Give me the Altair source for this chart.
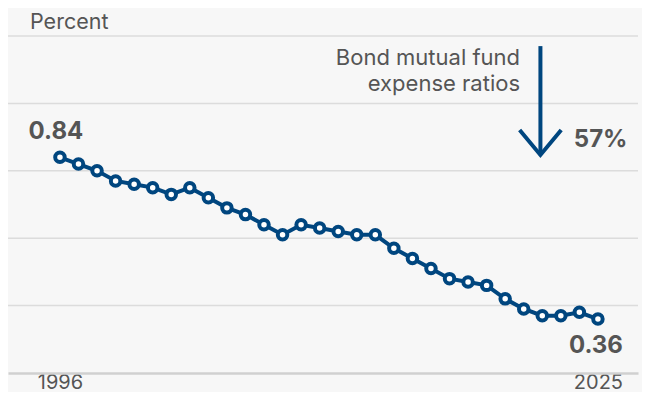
import altair as alt
import pandas as pd

years = list(range(1996, 2026))
ratios = [0.84, 0.82, 0.80, 0.77, 0.76, 0.75, 0.73, 0.75, 0.72, 0.69,
          0.67, 0.64, 0.61, 0.64, 0.63, 0.62, 0.61, 0.61, 0.57, 0.54,
          0.51, 0.48, 0.47, 0.46, 0.42, 0.39, 0.37, 0.37, 0.38, 0.36]
tick_years = [1996, 2025]
grid_values = [0.2, 0.4, 0.6, 0.8, 1.0, 1.2]
axis_title = "Percent"
annotation = ["Bond mutual fund", "expense ratios"]
change_label = "57%"

# annotation anchors (data coordinates)
arrow_x = 2021.9
arrow_top = 1.17
arrow_tip = 0.847
head_y = 0.921
head_half = 1.12
note_x = 2020.8
note_y = 1.114
change_x = 2023.7
change_y = 0.871

BLUE = "#00467F"
GREY = "#555555"
FONT = "Inter"
REG = 21.5

df = pd.DataFrame({"year": years, "ratio": ratios})
ends = pd.DataFrame({
    "year": [years[0], years[-1]],
    "ratio": [ratios[0], ratios[-1]],
    "label": [f"{ratios[0]:.2f}", f"{ratios[-1]:.2f}"],
})

xs = alt.Scale(domain=[1993.2, 2027.16], nice=False, zero=False)
ys = alt.Scale(domain=[0.2, 1.2], nice=False, zero=False)

base = alt.Chart(df)

grid = alt.Chart(pd.DataFrame({"v": grid_values[1:]})).mark_rule(
    color="#dcdcdc", strokeWidth=1.5
).encode(y=alt.Y("v:Q", scale=ys, axis=None))

line = base.mark_line(color=BLUE, strokeWidth=4).encode(
    x=alt.X("year:Q", scale=xs,
            axis=alt.Axis(values=tick_years, format="d", title=None, grid=False,
                          ticks=False, domain=True, domainColor="#d0d0d0",
                          domainWidth=2.5, labelFont=FONT, labelFontSize=20,
                          labelColor=GREY, labelPadding=-1, labelFlush=False)),
    y=alt.Y("ratio:Q", scale=ys, axis=None),
)
points = base.mark_point(shape="circle", filled=True, fill="white", stroke=BLUE,
                         strokeWidth=4, size=90, opacity=1).encode(
    x=alt.X("year:Q", scale=xs), y=alt.Y("ratio:Q", scale=ys))

first_lbl = alt.Chart(ends.iloc[[0]]).mark_text(
    font=FONT, fontSize=24, fontWeight="bold", color=GREY, align="center",
    baseline="alphabetic", dx=-4, dy=-18
).encode(x=alt.X("year:Q", scale=xs), y=alt.Y("ratio:Q", scale=ys), text="label:N")
last_lbl = alt.Chart(ends.iloc[[1]]).mark_text(
    font=FONT, fontSize=24, fontWeight="bold", color=GREY, align="right",
    baseline="alphabetic", dx=25, dy=34
).encode(x=alt.X("year:Q", scale=xs), y=alt.Y("ratio:Q", scale=ys), text="label:N")

title_txt = alt.Chart(pd.DataFrame({"t": [axis_title]})).mark_text(
    font=FONT, fontSize=REG, color=GREY, align="left", baseline="alphabetic"
).encode(x=alt.value(22), y=alt.value(-7), text="t:N")

shaft = alt.Chart(pd.DataFrame({"x": [arrow_x], "y1": [arrow_top], "y2": [arrow_tip]})).mark_rule(
    color=BLUE, strokeWidth=4
).encode(x=alt.X("x:Q", scale=xs), y=alt.Y("y1:Q", scale=ys), y2="y2:Q")

head = alt.Chart(pd.DataFrame({
    "x": [arrow_x - head_half, arrow_x, arrow_x + head_half],
    "y": [head_y, arrow_tip, head_y],
    "o": [0, 1, 2],
})).mark_line(color=BLUE, strokeWidth=4, strokeJoin="miter", strokeCap="butt").encode(
    x=alt.X("x:Q", scale=xs), y=alt.Y("y:Q", scale=ys), order="o:Q")

note = alt.Chart(pd.DataFrame({"x": [note_x], "y": [note_y], "t": [annotation]})).mark_text(
    font=FONT, fontSize=22, color=GREY, align="right", baseline="alphabetic", lineHeight=26
).encode(x=alt.X("x:Q", scale=xs), y=alt.Y("y:Q", scale=ys), text="t")

change = alt.Chart(pd.DataFrame({"x": [change_x], "y": [change_y], "t": [change_label]})).mark_text(
    font=FONT, fontSize=24, fontWeight="bold", color=GREY, align="left", baseline="alphabetic"
).encode(x=alt.X("x:Q", scale=xs), y=alt.Y("y:Q", scale=ys), text="t:N")

chart = alt.layer(grid, line, points, first_lbl, last_lbl, title_txt, shaft, head, note, change).properties(
    width=630, height=337, background="#f7f7f7",
    padding={"left": 0, "top": 28, "right": 4, "bottom": 19},
    autosize=alt.AutoSizeParams(type="none"),
).configure_view(stroke=None)

chart.save("out.html", embed_options={"renderer": "svg", "actions": False})
